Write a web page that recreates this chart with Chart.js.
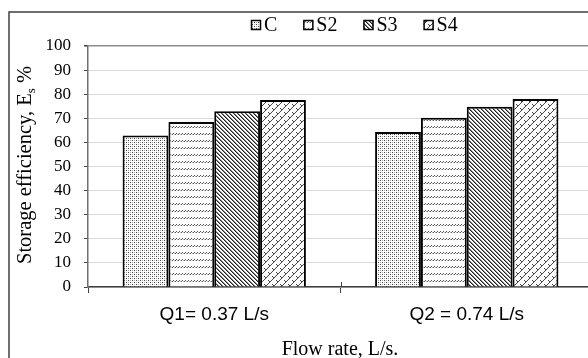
<!DOCTYPE html>
<html>
<head>
<meta charset="utf-8">
<script src="https://cdn.jsdelivr.net/npm/chart.js@4/dist/chart.umd.min.js"></script>
<style>
  html, body { margin: 0; padding: 0; background: #fff; overflow: hidden; }
  #wrap { width: 605px; height: 358px; }
</style>
</head>
<body>
<div id="wrap"><canvas id="c" width="605" height="358"></canvas></div>
<script>
// ---- data ----
const categories = ['Q1= 0.37 L/s', 'Q2 = 0.74 L/s'];
const seriesNames = ['C', 'S2', 'S3', 'S4'];
const valuesC  = [62.9, 64.3];
const valuesS2 = [68.5, 70.2];
const valuesS3 = [72.9, 74.8];
const valuesS4 = [77.6, 78.0];
const yMin = 0, yMax = 100, yStep = 10;
const xTitle = 'Flow rate, L/s.';
const yTitleMain = 'Storage efficiency, E';
const yTitleSub = 's';
const yTitleTail = ' %';

// ---- patterns ----
function makePattern(w, h, draw) {
  const c = document.createElement('canvas');
  c.width = w; c.height = h;
  const g = c.getContext('2d');
  g.fillStyle = '#ffffff';
  g.fillRect(0, 0, w, h);
  draw(g);
  return document.getElementById('c').getContext('2d').createPattern(c, 'repeat');
}
function px(g, x, y, col) { g.fillStyle = col; g.fillRect(x, y, 1, 1); }

const patC = makePattern(4, 4, g => {
  px(g, 0, 0, '#444'); px(g, 2, 2, '#444');
  px(g, 2, 0, '#aaa'); px(g, 0, 2, '#aaa');
});
const patS2 = makePattern(3, 7, g => {
  px(g, 2, 0, '#555');
  px(g, 1, 1, '#555'); px(g, 0, 1, '#bbb');
});
const patS3 = makePattern(4, 4, g => {
  for (let i = 0; i < 4; i++) {
    px(g, i, i, '#222');
    px(g, (i + 1) % 4, i, '#888');
  }
});
const patS4 = makePattern(8, 8, g => {
  g.strokeStyle = '#444';
  g.lineWidth = 1;
  g.beginPath();
  g.moveTo(0, 8); g.lineTo(8, 0);
  g.moveTo(0, 4); g.lineTo(2, 6);
  g.moveTo(4, 0); g.lineTo(6, 2);
  g.stroke();
});
const patterns = [patC, patS2, patS3, patS4];
const seriesValues = [valuesC, valuesS2, valuesS3, valuesS4];

const datasets = seriesNames.map((n, i) => ({
  label: n,
  data: seriesValues[i],
  backgroundColor: patterns[i],
  borderColor: '#000',
  borderWidth: 2,
  borderSkipped: 'bottom',
  categoryPercentage: 0.726,
  barPercentage: 1.0
}));

const yTicks = [];
for (let v = yMin; v <= yMax; v += yStep) yTicks.push(v);

const decorPlugin = {
  id: 'decor',
  afterDraw(chart) {
    const ctx = chart.ctx;
    const area = chart.chartArea;
    ctx.save();
    // outer border
    ctx.strokeStyle = '#404040';
    ctx.lineWidth = 1.5;
    ctx.beginPath();
    ctx.moveTo(9, 400); ctx.lineTo(9, 12); ctx.lineTo(700, 12);
    ctx.stroke();

    // x tick between categories crossing the axis
    const xs = chart.scales.x;
    const mid = (xs.getPixelForValue(0) + xs.getPixelForValue(1)) / 2;
    ctx.strokeStyle = '#404040';
    ctx.lineWidth = 1;
    ctx.beginPath();
    ctx.moveTo(Math.round(mid) + 0.5, area.bottom - 5);
    ctx.lineTo(Math.round(mid) + 0.5, area.bottom);
    ctx.stroke();

    // legend
    ctx.font = '20px "Liberation Serif", "Times New Roman", serif';
    ctx.textBaseline = 'middle';
    ctx.textAlign = 'left';
    let x = 251;
    const yc = 25;
    seriesNames.forEach((n, i) => {
      ctx.fillStyle = patterns[i];
      ctx.fillRect(x, yc - 5, 10, 10);
      ctx.strokeStyle = '#000';
      ctx.lineWidth = 1.5;
      ctx.strokeRect(x + 0.5, yc - 4.5, 9, 9);
      ctx.fillStyle = '#000';
      ctx.fillText(n, x + 13, yc + 1);
      x += 13 + ctx.measureText(n).width + 26;
    });

    // x axis title
    ctx.font = '20px "Liberation Serif", "Times New Roman", serif';
    ctx.textAlign = 'center';
    ctx.textBaseline = 'alphabetic';
    ctx.fillStyle = '#000';
    ctx.fillText(xTitle, 340, 355);

    // y axis title (rotated, with subscript)
    ctx.translate(31, 165);
    ctx.rotate(-Math.PI / 2);
    const fMain = '20.5px "Liberation Serif", "Times New Roman", serif';
    const fSub = '13px "Liberation Serif", "Times New Roman", serif';
    ctx.font = fMain;
    const w1 = ctx.measureText(yTitleMain).width;
    const w3 = ctx.measureText(yTitleTail).width;
    ctx.font = fSub;
    const w2 = ctx.measureText(yTitleSub).width;
    let sx = -(w1 + w2 + w3) / 2;
    ctx.textAlign = 'left';
    ctx.font = fMain;
    ctx.fillText(yTitleMain, sx, 0);
    sx += w1;
    ctx.font = fSub;
    ctx.fillText(yTitleSub, sx, 4);
    sx += w2;
    ctx.font = fMain;
    ctx.fillText(yTitleTail, sx, 0);
    ctx.restore();
  }
};

new Chart(document.getElementById('c'), {
  type: 'bar',
  data: { labels: categories, datasets },
  options: {
    responsive: false,
    devicePixelRatio: 1,
    animation: false,
    layout: { padding: { left: 0, right: 12, top: 46, bottom: 0 } },
    plugins: {
      legend: { display: false },
      tooltip: { enabled: false }
    },
    scales: {
      x: {
        afterFit(s) { s.height = 71; },
        grid: {
          display: true,
          drawOnChartArea: false,
          drawTicks: true,
          tickLength: 6,
          color: '#404040',
          offset: true
        },
        border: { display: true, color: '#404040', width: 1.5 },
        ticks: {
          color: '#000',
          padding: 10,
          font: { family: '"Liberation Sans", Arial, sans-serif', size: 19 }
        }
      },
      y: {
        min: yMin,
        max: yMax,
        afterFit(s) { s.width = 88; },
        afterBuildTicks(s) { s.ticks = yTicks.map(v => ({ value: v })); },
        grid: {
          color: (c) => (c.tick && c.tick.value === yMax) ? '#8c8c8c' : '#d9d9d9',
          lineWidth: (c) => (c.tick && c.tick.value === yMax) ? 1.5 : 1,
          tickColor: '#404040',
          tickLength: 4,
          drawTicks: true
        },
        border: { display: true, color: '#707070', width: 1.5 },
        ticks: {
          color: '#000',
          padding: 13,
          font: { family: '"Liberation Serif", "Times New Roman", serif', size: 17 }
        }
      }
    }
  },
  plugins: [decorPlugin]
});
</script>
</body>
</html>
